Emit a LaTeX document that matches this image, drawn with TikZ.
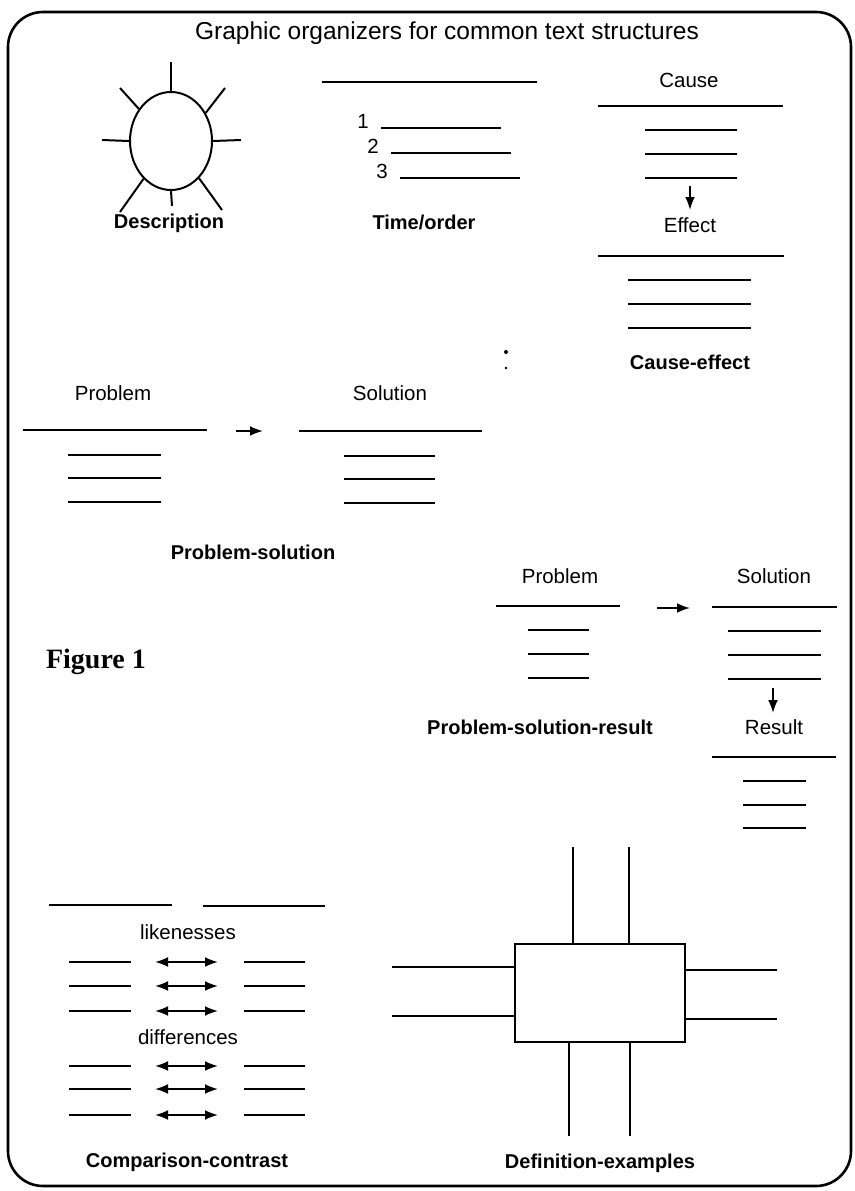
\documentclass[tikz,border=0pt]{standalone}
\usepackage{fontspec}
\setmainfont{Liberation Sans}
\newfontfamily\figfont{Liberation Serif}
\usetikzlibrary{arrows.meta,calc,positioning,shapes.geometric}
\tikzset{>={Latex[length=13pt,width=10pt]}}

\begin{document}
\begin{tikzpicture}[x=1pt,y=-1pt]

        % Setup the styles for rules and labels
        \tikzset{rule/.style={line width=2pt},
                 caption/.style={font=\fontsize{20}{24}\selectfont\bfseries},
                 word/.style={font=\fontsize{20.5}{24}\selectfont},
                 onehead/.style={->, line width=2pt},
                 twohead/.style={<->, line width=2pt}}
        \useasboundingbox (0,0) rectangle (854,1191);

        % Frame and title
        \draw[line width=2.6pt, rounded corners=35pt] (8,12) rectangle (851,1186);
        \node[font=\fontsize{24.5}{28}\selectfont] at (447,33) (title)
            {Graphic organizers for common text structures};

        % Description
        \node[draw, ellipse, rule, minimum width=82pt, minimum height=98pt] at (171,141) (sun) {};
        \foreach \a/\x/\y in {90/171/62, 135/120/88, 39/225/88, 180/102/140,
                              0/241/140, 234/120/212, 307/222/210, 270/172/206}
            \draw[rule] (sun.\a) -- (\x,\y);
        \node[caption] at (169,223) (description) {Description};

        % Time/order
        \draw[rule] (322,82) -- (537,82);
        \foreach \n/\x/\y in {1/381/128, 2/391/153, 3/400/178} {
            \node[word, anchor=base east, inner sep=0pt] at (\x-12,\y) (num\n) {\n};
            \draw[rule] (\x,\y) -- (\x+120,\y);
        }
        \node[caption] at (424,222) (timeorder) {Time/order};

        % Cause-effect
        \node[word] at (689,80) (cause) {Cause};
        \draw[rule] (598,106) -- (783,106);
        \foreach \y in {130,154,178}
            \draw[rule] (645,\y) -- (737,\y);
        \coordinate (ca) at (690,186);
        \coordinate (cb) at (690,210);
        \draw[onehead] (ca) -- (cb);
        \node[word] at (690,225) (effect) {Effect};
        \draw[rule] (598,256) -- (784,256);
        \foreach \y in {280,304,328}
            \draw[rule] (628,\y) -- (751,\y);
        \node[caption] at (690,362) (causeeffect) {Cause-effect};
        \fill (506,352) circle (2pt) (506,368) circle (1.3pt);

        % Problem-solution
        \node[word] at (113,393) (problemA) {Problem};
        \draw[rule] (23,430) -- (207,430);
        \foreach \y in {455,478,502}
            \draw[rule] (68,\y) -- (161,\y);
        \coordinate (pa) at (236,431);
        \coordinate (pb) at (263,431);
        \draw[onehead] (pa) -- (pb);
        \node[word] at (390,393) (solutionA) {Solution};
        \draw[rule] (299,431) -- (482,431);
        \foreach \y in {456,479,503}
            \draw[rule] (344,\y) -- (435,\y);
        \node[caption] at (253,552) (probsol) {Problem-solution};

        % Problem-solution-result
        \node[word] at (560,576) (problemB) {Problem};
        \draw[rule] (496,606) -- (620,606);
        \foreach \y in {630,654,678}
            \draw[rule] (528,\y) -- (589,\y);
        \coordinate (qa) at (657,608);
        \coordinate (qb) at (690,608);
        \draw[onehead] (qa) -- (qb);
        \node[word] at (774,576) (solutionB) {Solution};
        \draw[rule] (712,607) -- (837,607);
        \foreach \y in {631,655,679}
            \draw[rule] (728,\y) -- (821,\y);
        \coordinate (ra) at (773,688);
        \coordinate (rb) at (773,713);
        \draw[onehead] (ra) -- (rb);
        \node[word] at (774,727) (result) {Result};
        \draw[rule] (712,757) -- (836,757);
        \foreach \y in {781,805,828}
            \draw[rule] (743,\y) -- (806,\y);
        \node[caption] at (540,727) (probsolres) {Problem-solution-result};

        \node[font=\figfont\fontsize{28}{32}\selectfont\bfseries] at (96,662) (figure) {Figure 1};

        % Comparison-contrast
        \draw[rule] (49,905) -- (172,905);
        \draw[rule] (203,906) -- (325,906);
        \node[word] at (188,932) (like) {likenesses};
        \foreach \y in {962,986,1011,1066,1089,1115} {
            \draw[rule] (69,\y) -- (131,\y);
            \draw[twohead] (155,\y) -- (218,\y);
            \draw[rule] (244,\y) -- (305,\y);
        }
        \node[word] at (188,1037) (diff) {differences};
        \node[caption] at (187,1162) (compcont) {Comparison-contrast};

        % Definition-examples
        \node[draw, rule, minimum width=170pt, minimum height=98pt] at (600,993) (defbox) {};
        \foreach \x in {573,629}
            \draw[rule] (\x,847) -- (\x,944);
        \foreach \x in {569,630}
            \draw[rule] (\x,1042) -- (\x,1136);
        \foreach \y in {967,1016}
            \draw[rule] (392,\y) -- (515,\y);
        \foreach \y in {970,1019}
            \draw[rule] (685,\y) -- (777,\y);
        \node[caption] at (600,1163) (defex) {Definition-examples};
    \end{tikzpicture}
\end{document}
